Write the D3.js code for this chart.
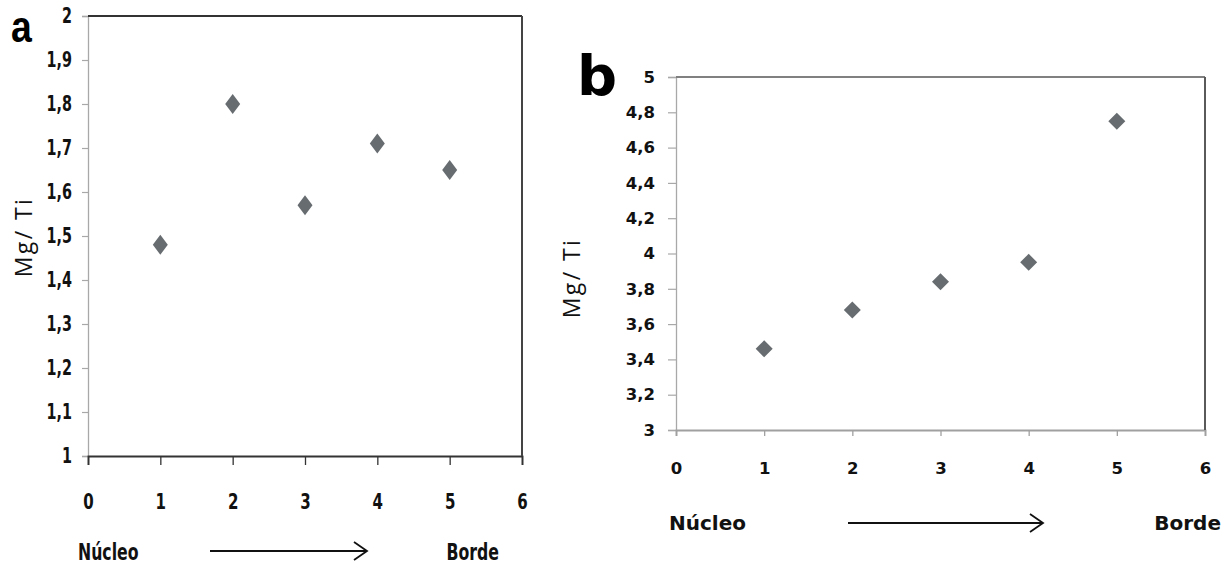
<!DOCTYPE html>
<html><head><meta charset="utf-8">
<script src="https://cdn.jsdelivr.net/npm/d3@7"></script>
<style>
body{margin:0;background:#fff;}
svg{display:block;}
.tk{font-family:"Liberation Sans Narrow","DejaVu Sans Condensed",sans-serif;font-weight:bold;fill:#111;}
.tkb{font-family:"DejaVu Sans",sans-serif;font-weight:bold;fill:#111;}
</style></head>
<body>
<svg id="c" width="1224" height="565"></svg>
<script>
const xTicks = [0,1,2,3,4,5,6];
const positionsA = [1,2,3,4,5];
const valuesA = [1.48,1.80,1.57,1.71,1.65];
const yTicksA = [1,1.1,1.2,1.3,1.4,1.5,1.6,1.7,1.8,1.9,2];
const positionsB = [1,2,3,4,5];
const valuesB = [3.46,3.68,3.84,3.95,4.75];
const yTicksB = [3,3.2,3.4,3.6,3.8,4,4.2,4.4,4.6,4.8,5];
const yLabel = "Mg/ Ti";
const startLabel = "Núcleo";
const endLabel = "Borde";

const svg = d3.select("#c");
const fmt = v => String(+v.toFixed(1)).replace(".", ",");

function squeeze(sel, sx){
  if (sx === 1) return;
  sel.each(function(){
    const t = d3.select(this);
    const x0 = +(t.attr("x") || 0);
    t.attr("x", x0 / sx).attr("transform", `scale(${sx},1)`);
  });
}

function panel(o){
  const g = svg.append("g");
  const x = d3.scaleLinear().domain([0,6]).range([o.l,o.r]);
  const y = d3.scaleLinear().domain(o.yd).range([o.b,o.t]);
  // y axis
  const ya = g.append("g").attr("transform",`translate(${o.l},0)`)
    .call(d3.axisLeft(y).tickValues(o.yt).tickSize(o.yts).tickPadding(o.ypad).tickFormat(fmt));
  ya.select(".domain").attr("stroke","#a8a8a8").attr("stroke-width",1.3);
  ya.selectAll(".tick line").attr("stroke","#a8a8a8").attr("stroke-width",1.2);
  ya.selectAll("text").attr("class",o.tkc).attr("font-size",o.fs).attr("fill","#111");
  squeeze(ya.selectAll("text"), o.sx);
  // x axis
  const xa = g.append("g").attr("transform",`translate(0,${o.b})`)
    .call(d3.axisBottom(x).tickValues(xTicks).tickSize(o.xts).tickPadding(o.xpad).tickFormat(d3.format("d")));
  xa.select(".domain").attr("stroke",o.botC).attr("stroke-width",1.8);
  xa.selectAll(".tick line").attr("stroke",o.botC).attr("stroke-width",1.3);
  xa.selectAll("text").attr("class",o.tkc).attr("font-size",o.xfs).attr("fill","#111");
  squeeze(xa.selectAll("text"), o.sx);
  // frame top/right
  g.append("line").attr("x1",o.l).attr("x2",o.r).attr("y1",o.t).attr("y2",o.t).attr("stroke",o.topC).attr("stroke-width",1.8);
  g.append("line").attr("x1",o.r).attr("x2",o.r).attr("y1",o.t).attr("y2",o.b).attr("stroke",o.rightC).attr("stroke-width",2);
  // markers
  const pts = o.px.map((p,i)=>[p,o.vals[i]]);
  g.selectAll("path.m").data(pts).join("path").attr("class","m")
    .attr("d",d=>{const cx=x(d[0]),cy=y(d[1]),w=o.mw/2,h=o.mh/2;return `M${cx},${cy-h}L${cx+w},${cy}L${cx},${cy+h}L${cx-w},${cy}Z`;})
    .attr("fill","#676c70");
  // y label
  g.append("text").attr("transform",`translate(${o.ylx},${o.yly}) rotate(-90)`)
    .attr("text-anchor","middle").attr("dominant-baseline","middle")
    .attr("font-family","'Open Sans','Noto Sans',sans-serif").attr("font-size",o.ylfs)
    .attr("letter-spacing","2.4px").attr("fill","#111").text(yLabel);
  // bottom labels
  const t1 = g.append("text").attr("class",o.tkc).attr("x",o.n1).attr("y",o.ny).attr("font-size",o.nfs).text(startLabel);
  const t2 = g.append("text").attr("class",o.tkc).attr("x",o.n2).attr("y",o.ny).attr("font-size",o.nfs).attr("text-anchor","end").text(endLabel);
  squeeze(t1, o.sx); squeeze(t2, o.sx);
  // arrow
  g.append("line").attr("x1",o.a1).attr("x2",o.a2).attr("y1",o.ay).attr("y2",o.ay).attr("stroke","#111").attr("stroke-width",1.8);
  g.append("path").attr("d",`M${o.a2-13},${o.ay-9}L${o.a2},${o.ay}L${o.a2-13},${o.ay+9}`).attr("fill","none").attr("stroke","#111").attr("stroke-width",1.8);
  // panel letter
  g.append("text").attr("transform",`translate(${o.px0},${o.py0}) scale(${o.psx},1)`)
    .attr("font-family",o.pff).attr("font-weight","bold").attr("font-size",o.pfs).attr("fill","#000").text(o.letter);
}

panel({l:88,r:522,t:16,b:456,yd:[1,2],yt:yTicksA,px:positionsA,vals:valuesA,
  topC:"#333",rightC:"#444",botC:"#333",tkc:"tk",fs:21,xfs:22,sx:0.76,yts:6,ypad:10,xts:9,xpad:28,
  mw:15,mh:20,ylx:26,yly:237,ylfs:23,n1:78,n2:499,ny:560,nfs:23,a1:210,a2:367,ay:551,
  px0:11,py0:42,pfs:44,psx:0.85,pff:"'Liberation Sans','DejaVu Sans',sans-serif",letter:"a"});

panel({l:676,r:1205,t:77,b:430,yd:[3,5],yt:yTicksB,px:positionsB,vals:valuesB,
  topC:"#808080",rightC:"#5a5a5a",botC:"#a0a0a0",tkc:"tkb",fs:16.5,xfs:16.5,sx:1,yts:8,ypad:13,xts:6,xpad:26,
  mw:17,mh:17,ylx:574,yly:278,ylfs:23,n1:669,n2:1221,ny:530,nfs:20,a1:848,a2:1043,ay:523,
  px0:577,py0:95,pfs:56,psx:1,pff:"'DejaVu Sans',sans-serif",letter:"b"});
</script>
</body></html>
